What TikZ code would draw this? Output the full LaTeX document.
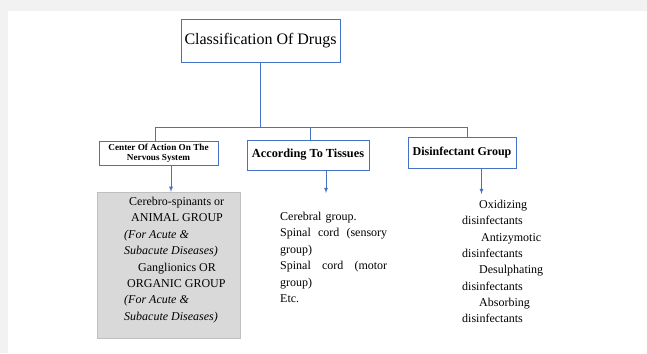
\documentclass[tikz,border=0pt]{standalone}
\usepackage{fontspec}
\setmainfont{Liberation Serif}
\usepackage{xcolor}
\usetikzlibrary{positioning,arrows}
\definecolor{boxblue}{RGB}{68,114,196}
\definecolor{pagegray}{RGB}{242,242,242}
\definecolor{fillgray}{RGB}{217,217,217}
\definecolor{edgegray}{RGB}{191,191,191}

\begin{document}
\begin{tikzpicture}[x=1pt,y=-1pt,
        catbox/.style={draw=boxblue,line width=0.8pt,fill=white,rectangle,inner sep=0pt,align=center},
        link/.style={draw=boxblue,line width=0.8pt},
        pointer/.style={draw=boxblue,line width=0.8pt,-latex}]
        \fill[pagegray] (0,0) rectangle (647,353);
        \fill[white] (8,11) rectangle (647,353);
        \useasboundingbox (0,0) rectangle (647,353);

        \node[catbox,minimum width=159pt,minimum height=43pt,font=\fontsize{16}{19}\selectfont] (T) at (260.5,40.5) {Classification Of Drugs};
        \node[catbox,minimum width=119pt,minimum height=24pt,font=\fontsize{9.2}{10}\selectfont\bfseries] (B1) at (158.5,153.5) {Center Of Action On The\\Nervous System};
        \node[catbox,minimum width=122pt,minimum height=30pt,font=\fontsize{12.3}{14}\selectfont\bfseries] (B2) at (308,155) {According To Tissues};
        \node[catbox,minimum width=108pt,minimum height=31pt,font=\fontsize{12}{14}\selectfont\bfseries] (B3) at (462,152.5) {Disinfectant Group};

        \coordinate (J) at (T.south |- 0,127);
        \draw[link] (T.south) -- (J);
        \draw[link] (J) -| ([xshift=-3.5pt]B1.north);
        \draw[link] (J) -| ([xshift=2pt]B2.north);
        \draw[link] (J) -| ([xshift=5pt]B3.north);

        \node[draw=edgegray,fill=fillgray,rectangle,minimum width=143pt,minimum height=146pt,inner sep=0pt] (G) at (168.5,265) {};
        \node[anchor=north west,inner sep=0pt,align=left,font=\fontsize{12}{16.4}\selectfont] (GT) at (124,197) {%
                \hspace*{5pt}Cerebro-spinants or\\
                \hspace*{7pt}ANIMAL GROUP\\
                \textit{(For Acute \&}\\
                \textit{Subacute Diseases)}\\
                \hspace*{14pt}Ganglionics OR\\
                \hspace*{3pt}ORGANIC GROUP\\
                \textit{(For Acute \&}\\
                \textit{Subacute Diseases)}};

        \node[anchor=north west,inner sep=0pt,text width=107pt,align=left,font=\fontsize{12}{16.4}\selectfont] (M) at (280,212) {%
                Cerebral group.\\
                Spinal\hfill cord\hfill (sensory\\
                group)\\
                Spinal\hfill cord\hfill (motor\\
                group)\\
                Etc.};

        \node[anchor=north west,inner sep=0pt,align=left,font=\fontsize{12}{16.3}\selectfont] (R) at (462,200) {%
                \hspace*{17pt}Oxidizing\\
                disinfectants\\
                \hspace*{19pt}Antizymotic\\
                disinfectants\\
                \hspace*{17pt}Desulphating\\
                disinfectants\\
                \hspace*{17pt}Absorbing\\
                disinfectants};

        \coordinate (A2) at (326,193);
        \coordinate (A3) at (481.5,194);
        \draw[pointer] (B1.south -| 171,0) -- (G.north -| 171,0);
        \draw[pointer] (B2.south -| A2) -- (A2);
        \draw[pointer] (B3.south -| A3) -- (A3);
\end{tikzpicture}
\end{document}
